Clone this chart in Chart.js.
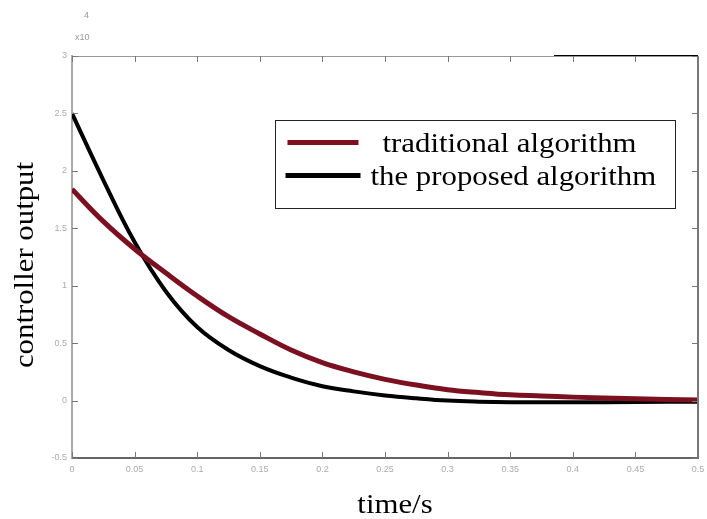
<!DOCTYPE html>
<html>
<head>
<meta charset="utf-8">
<script src="https://cdn.jsdelivr.net/npm/chart.js@4/dist/chart.umd.min.js"></script>
<style>
	html, body { margin: 0; padding: 0; background: #fff; }
	#wrap { width: 707px; height: 519px; }
</style>
</head>
<body>
<div id="wrap"><canvas id="chart" width="707" height="519"></canvas></div>
<script>

// time in seconds
const times = [0, 0.025, 0.05, 0.075, 0.1, 0.125, 0.15, 0.175, 0.2, 0.225, 0.25, 0.275, 0.3, 0.325, 0.35, 0.375, 0.4, 0.45, 0.5];

// controller output, x10^4
const traditional = [1.84, 1.56, 1.32, 1.11, 0.91, 0.73, 0.58, 0.44, 0.33, 0.25, 0.185, 0.135, 0.095, 0.07, 0.05, 0.04, 0.03, 0.015, 0.005];
const proposed = [2.50, 1.92, 1.38, 0.95, 0.64, 0.44, 0.30, 0.20, 0.125, 0.08, 0.045, 0.02, 0.0, -0.01, -0.015, -0.015, -0.015, -0.012, -0.01];

// stray black segment on the top frame
const topEdgeX = [0.385, 0.5];
const topEdgeY = [3, 3];

const labels = ['traditional algorithm', 'the proposed algorithm'];
const colors = ['#7b1020', '#000000'];

const toPoints = (xs, ys) => xs.map((x, i) => ({ x: x, y: ys[i] }));

const narrow = '"Liberation Sans Narrow", "Liberation Sans", sans-serif';
const serif = '"Liberation Serif", "DejaVu Serif", serif';


function stretchedText(ctx, text, x, y, sx)
{
	ctx.save();
	ctx.translate(x, y);
	ctx.scale(sx, 1);
	ctx.fillText(text, 0, 0);
	ctx.restore();
}


// inward ticks, frame, axis titles, legend box
const decorations = {
	id: 'decorations',
	afterDatasetsDraw(chart)
	{
		const ctx = chart.ctx;
		const a = chart.chartArea;
		const xs = chart.scales.x;
		const ys = chart.scales.y;

		ctx.save();

		// top and right frame
		ctx.strokeStyle = '#999';
		ctx.lineWidth = 1;
		ctx.beginPath();
		ctx.moveTo(a.left, a.top + 0.5);
		ctx.lineTo(a.right, a.top + 0.5);
		ctx.stroke();
		ctx.strokeStyle = '#777';
		ctx.lineWidth = 2;
		ctx.beginPath();
		ctx.moveTo(a.right, a.top);
		ctx.lineTo(a.right, a.bottom);
		ctx.stroke();

		ctx.strokeStyle = '#777';
		ctx.lineWidth = 1;
		xs.ticks.forEach(t => {
			const px = Math.round(xs.getPixelForValue(t.value)) + 0.5;
			ctx.beginPath();
			ctx.moveTo(px, a.bottom);
			ctx.lineTo(px, a.bottom - 6);
			ctx.moveTo(px, a.top);
			ctx.lineTo(px, a.top + 6);
			ctx.stroke();
		});
		ys.ticks.forEach(t => {
			const py = Math.round(ys.getPixelForValue(t.value)) + 0.5;
			ctx.beginPath();
			ctx.moveTo(a.left, py);
			ctx.lineTo(a.left + 6, py);
			ctx.moveTo(a.right, py);
			ctx.lineTo(a.right - 6, py);
			ctx.stroke();
		});

		// multiplier
		ctx.fillStyle = '#999';
		ctx.font = '9px ' + narrow;
		ctx.textAlign = 'left';
		ctx.textBaseline = 'alphabetic';
		ctx.fillText('x10', a.left + 3, a.top - 16);
		ctx.fillText('4', a.left + 12, a.top - 38);

		// axis titles
		ctx.fillStyle = '#000';
		ctx.font = '28px ' + serif;
		ctx.textAlign = 'center';
		ctx.textBaseline = 'middle';
		stretchedText(ctx, 'time/s', 395, 506, 1.1);
		ctx.save();
		ctx.translate(26, 265);
		ctx.rotate(-Math.PI / 2);
		stretchedText(ctx, 'controller output', 0, 0, 1.1);
		ctx.restore();

		// legend
		const bx = Math.round(xs.getPixelForValue(0.162)) + 0.5;
		const by = Math.round(ys.getPixelForValue(2.44)) + 0.5;
		const bw = 400;
		const bh = 88;
		ctx.fillStyle = '#fff';
		ctx.fillRect(bx, by, bw, bh);
		ctx.strokeStyle = '#222';
		ctx.lineWidth = 1;
		ctx.strokeRect(bx, by, bw, bh);

		const rows = [
			{ y: by + 22, x0: bx + 12, x1: bx + 83, tx: bx + 107 },
			{ y: by + 55, x0: bx + 10, x1: bx + 85, tx: bx + 95 },
		];
		ctx.font = '28px ' + serif;
		ctx.textAlign = 'left';
		ctx.textBaseline = 'middle';
		rows.forEach((r, i) => {
			ctx.strokeStyle = chart.data.datasets[i].borderColor;
			ctx.lineWidth = 5;
			ctx.beginPath();
			ctx.moveTo(r.x0, r.y);
			ctx.lineTo(r.x1, r.y);
			ctx.stroke();
			ctx.fillStyle = '#000';
			stretchedText(ctx, chart.data.datasets[i].label, r.tx, r.y + 2, 1.1);
		});
		ctx.restore();
	}
};


new Chart(document.getElementById('chart'), {
	type: 'line',
	data: {
		datasets: [
			{
				label: labels[0],
				data: toPoints(times, traditional),
				borderColor: colors[0],
				borderWidth: 5,
				pointRadius: 0,
				tension: 0.4,
			},
			{
				label: labels[1],
				data: toPoints(times, proposed),
				borderColor: colors[1],
				borderWidth: 4,
				pointRadius: 0,
				tension: 0.4,
			},
			{
				label: 'edge',
				data: toPoints(topEdgeX, topEdgeY),
				borderColor: '#000',
				borderWidth: 2,
				pointRadius: 0,
				clip: false,
			}
		]
	},
	options: {
		responsive: false,
		animation: false,
		layout: {
			padding: { left: 0, top: 56, right: 9, bottom: 0 }
		},
		plugins: {
			legend: { display: false },
			tooltip: { enabled: false },
		},
		scales: {
			x: {
				type: 'linear',
				min: 0,
				max: 0.5,
				afterFit: s => { s.height = 61; s.paddingRight = 0; },
				border: { display: true, color: '#666', width: 2 },
				grid: { drawOnChartArea: false, drawTicks: false },
				ticks: {
					stepSize: 0.05,
					padding: 6,
					color: '#aaa',
					font: { family: narrow, size: 9 },
					callback: v => String(Math.round(v * 100) / 100),
				},
			},
			y: {
				min: -0.5,
				max: 3,
				afterFit: s => { s.width = 72; },
				border: { display: true, color: '#aaa', width: 2 },
				grid: { drawOnChartArea: false, drawTicks: false },
				ticks: {
					stepSize: 0.5,
					padding: 5,
					color: '#aaa',
					font: { family: narrow, size: 9 },
					callback: v => String(v),
				},
			},
		}
	},
	plugins: [decorations]
});

</script>
</body>
</html>
